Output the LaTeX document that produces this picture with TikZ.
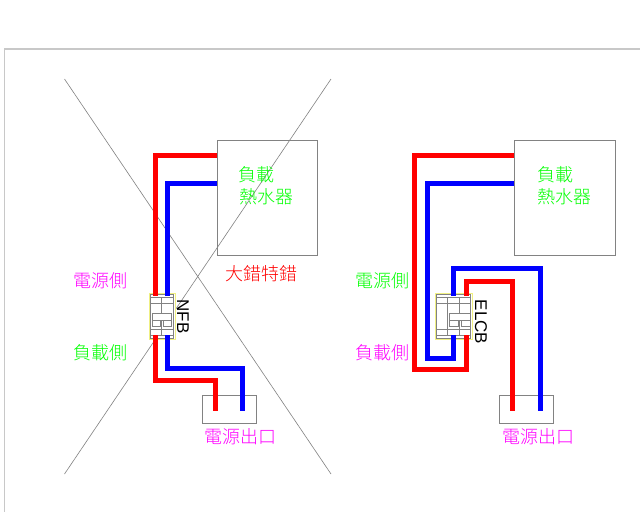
\documentclass[tikz,border=0pt]{standalone}
\usepackage{fontspec}
\setmainfont{Liberation Sans}
\newfontfamily\cjk{Noto Sans CJK TC Light}
\definecolor{wred}{RGB}{255,0,0}
\definecolor{wblue}{RGB}{0,0,255}
\definecolor{lgreen}{RGB}{0,255,0}
\definecolor{lmag}{RGB}{255,0,255}
\definecolor{hair}{RGB}{130,130,130}
\definecolor{frame}{RGB}{200,200,200}
\definecolor{brk}{RGB}{240,240,130}
\tikzset{
 redw/.style={draw=wred,line width=5pt,line join=miter},
 bluew/.style={draw=wblue,line width=5pt,line join=miter},
 boxn/.style={draw=hair,line width=.7pt,inner sep=0pt,anchor=north west},
 lab/.style={font=\cjk\fontsize{18}{20}\selectfont,inner sep=0pt,align=center},
 brkn/.style={draw=brk,line width=1.1pt,inner sep=0pt,anchor=north west},
 part/.style={draw=hair,line width=1pt},
 side/.style={font=\fontsize{17}{19}\selectfont,inner sep=0pt,rotate=-90}
}
\begin{document}
\begin{tikzpicture}[x=1pt,y=-1pt]
\useasboundingbox (0,0) rectangle (640,512);
\fill[white] (0,0) rectangle (640,512);
\draw[frame,line width=1.2pt] (640,49) -- (4.7,49) -- (4.7,512);
% cross
\coordinate (xa) at (64.5,79); \coordinate (xb) at (331,474);
\coordinate (xc) at (331,79); \coordinate (xd) at (64.5,474);
\draw[hair,line width=.6pt] (xa) -- (xb);
\draw[hair,line width=.6pt] (xc) -- (xd);
% boxes
\node[boxn,minimum width=100pt,minimum height=115pt] (loadL) at (216.5,140) {};
\node[boxn,minimum width=101pt,minimum height=115pt] (loadR) at (514,140) {};
\node[boxn,minimum width=54pt,minimum height=28pt] (outL) at (201.5,395) {};
\node[boxn,minimum width=54pt,minimum height=28pt] (outR) at (499,395) {};
% wire end points
\coordinate (nfbRi) at (155,296); \coordinate (nfbBi) at (167,296);
\coordinate (nfbRo) at (155,335); \coordinate (nfbBo) at (167,335);
\coordinate (elRi) at (466,296); \coordinate (elBi) at (453,296);
\coordinate (elRo) at (466,335); \coordinate (elBo) at (453,335);
\coordinate (outLr) at (215,411); \coordinate (outLb) at (242,411);
\coordinate (outRr) at (512,411); \coordinate (outRb) at (540,411);
% breaker details NFB
\fill[white] (149,293) rectangle (175,339);
\draw[part] (150.5,297) rectangle (173,335);
\draw[part] (150.5,303) -- (173,303) (150.5,329) -- (173,329) (161.5,297) -- (161.5,335);
\draw[part,fill=white] (152,313) rectangle (171,320);
\draw[part] (152,320) rectangle (160,326) (163,320) rectangle (171,326);
\draw[part,line width=.6pt] (150.5,294) rectangle (173,297) (150.5,335) rectangle (173,338);
% breaker details ELCB
\fill[white] (435,293) rectangle (472,339);
\draw[part] (436.5,297) rectangle (470.5,335);
\draw[part] (436.5,303) -- (470.5,303) (436.5,329) -- (470.5,329) (447,297) -- (447,335) (459.5,297) -- (459.5,335);
\draw[part,fill=white] (449,313) rectangle (470,320);
\draw[part] (449,320) rectangle (458,326) (461,320) rectangle (470,326);
\draw[part,line width=.6pt] (436.5,294) rectangle (470.5,297) (436.5,335) rectangle (470.5,338);
% breakers
\node[brkn,minimum width=26pt,minimum height=46pt] (nfb) at (149,293) {};
\node[brkn,minimum width=37pt,minimum height=46pt] (elcb) at (435,293) {};
% wires left
\draw[redw] (loadL.west |- 0,155) -- (155,155) -- (nfbRi);
\draw[bluew] (loadL.west |- 0,183) -- (167,183) -- (nfbBi);
\draw[redw] (nfbRo) -- (155,380) -- (215,380) -- (outLr);
\draw[bluew] (nfbBo) -- (167,368) -- (242,368) -- (outLb);
% wires right
\draw[redw] (loadR.west |- 0,155) -- (414,155) -- (414,369) -- (466,369) -- (elRo);
\draw[bluew] (loadR.west |- 0,183) -- (427,183) -- (427,358) -- (453,358) -- (elBo);
\draw[redw] (elRi) -- (466,281) -- (512,281) -- (outRr);
\draw[bluew] (elBi) -- (453,268) -- (540,268) -- (outRb);
% labels
\node[lab,text=lgreen] (t1) at (256.5,174.5) {負載};
\node[lab,text=lgreen] (t2) at (266,196.5) {熱水器};
\node[lab,text=wred] (t3) at (261,273.5) {大錯特錯};
\node[lab,text=lmag] (t4) at (100.5,280.5) {電源側};
\node[lab,text=lgreen] (t5) at (100.5,352.5) {負載側};
\node[lab,text=lmag] (t6) at (240,436.5) {電源出口};
\node[lab,text=lgreen] (t7) at (555,174.5) {負載};
\node[lab,text=lgreen] (t8) at (564,196.5) {熱水器};
\node[lab,text=lgreen] (t9) at (382,280.5) {電源側};
\node[lab,text=lmag] (t10) at (382,352.5) {負載側};
\node[lab,text=lmag] (t11) at (538.5,436.5) {電源出口};
\node[side] (n1) at (183,316.5) {NFB};
\node[side] (n2) at (481,322) {ELCB};
\end{tikzpicture}
\end{document}
